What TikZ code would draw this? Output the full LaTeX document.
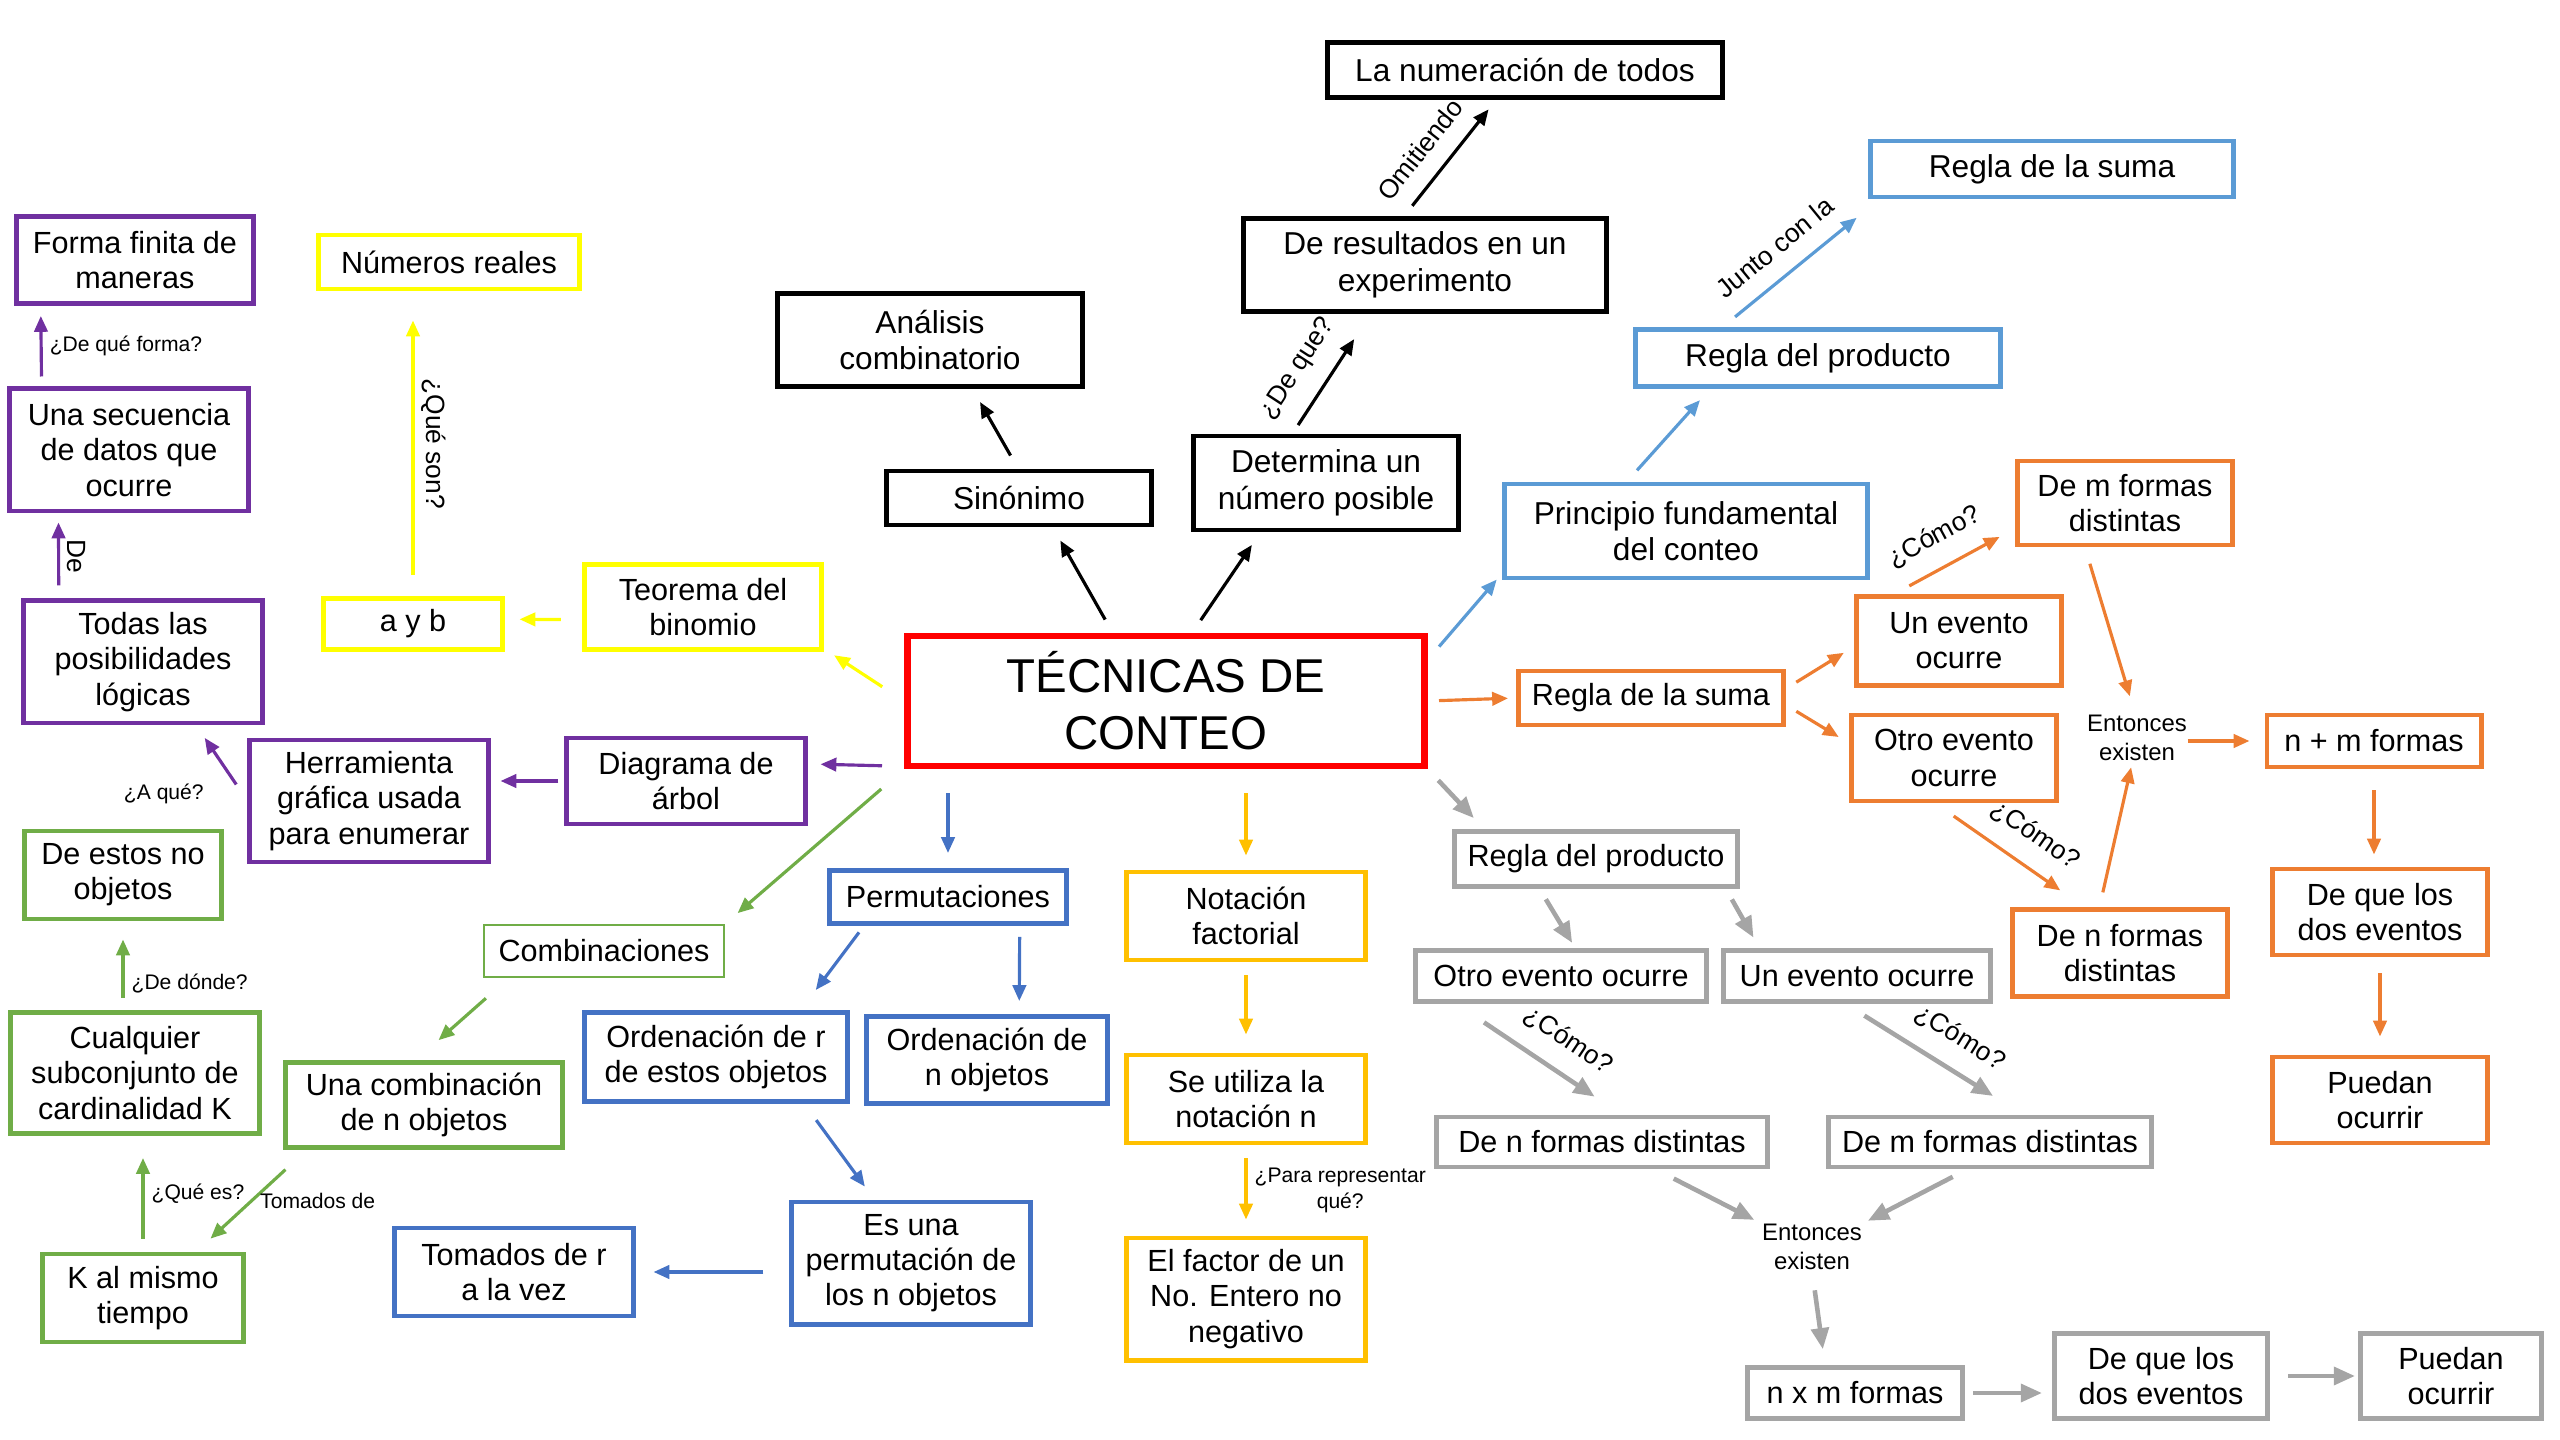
\documentclass[tikz,border=0pt]{standalone}
\usepackage{fontspec}
\setmainfont{Liberation Sans}
\usetikzlibrary{arrows.meta,calc}

\definecolor{rojo}{HTML}{FF0000}
\definecolor{celeste}{HTML}{5B9BD5}
\definecolor{naranja}{HTML}{ED7D31}
\definecolor{gris}{HTML}{A5A5A5}
\definecolor{amarillo}{HTML}{FFFF00}
\definecolor{dorado}{HTML}{FFC000}
\definecolor{morado}{HTML}{7030A0}
\definecolor{verde}{HTML}{70AD47}
\definecolor{azul}{HTML}{4472C4}

\tikzset{
  caja/.style={draw, rectangle, align=center, line width=1.4pt, inner sep=1pt,
    font=\fontsize{8.7}{10}\selectfont},
  bnegra/.style={caja, draw=black, font=\fontsize{9}{10.4}\selectfont},
  broja/.style={caja, draw=rojo, line width=1.9pt, font=\fontsize{13.5}{16.2}\selectfont},
  bceleste/.style={caja, draw=celeste, font=\fontsize{9}{10.4}\selectfont},
  bnaranja/.style={caja, draw=naranja},
  bgris/.style={caja, draw=gris},
  bamarilla/.style={caja, draw=amarillo},
  bdorada/.style={caja, draw=dorado},
  bmorada/.style={caja, draw=morado},
  bverde/.style={caja, draw=verde},
  bazul/.style={caja, draw=azul},
  flecha/.style={-{Triangle[length=4.5pt,width=3.8pt]}, line width=0.9pt,
    shorten <=1.5mm, shorten >=1.5mm},
  flechag/.style={flecha, gris, line width=1.3pt, -{Triangle[length=6pt,width=5pt]}},
  hueco/.style 2 args={shorten <=#1mm, shorten >=#2mm},
  etiq/.style={font=\fontsize{6}{7.2}\selectfont, inner sep=2pt, text=black},
  etiqg/.style={font=\fontsize{7.5}{9}\selectfont, inner sep=2pt, text=black},
  inclinada/.style={pos=#1, sloped, above=3pt, etiqg},
  inclinada/.default=0.5,
  entonces/.style={font=\fontsize{6.8}{8.2}\selectfont, align=center, inner sep=0pt},
}

\begin{document}
\begin{tikzpicture}[x=0.01cm, y=-0.01cm]
\useasboundingbox (0,0) rectangle (2560,1440);

% centro y negro
\node[broja, minimum width=5.17cm, minimum height=1.30cm] (tec) at (1166,701) {TÉCNICAS DE\\CONTEO};
\node[bnegra, minimum width=3.94cm, minimum height=0.55cm] (num) at (1525,70) {La numeración de todos};
\node[bnegra, minimum width=3.62cm, minimum height=0.93cm] (res) at (1425,265) {De resultados en un\\experimento};
\node[bnegra, minimum width=3.04cm, minimum height=0.93cm] (ana) at (930,340) {Análisis\\combinatorio};
\node[bnegra, minimum width=2.64cm, minimum height=0.54cm] (sin) at (1019,498) {Sinónimo};
\node[bnegra, minimum width=2.64cm, minimum height=0.94cm] (det) at (1326,483) {Determina un\\número posible};

% celeste
\node[bceleste, minimum width=3.63cm, minimum height=0.94cm] (pri) at (1686,531) {Principio fundamental\\del conteo};
\node[bceleste, minimum width=3.64cm, minimum height=0.57cm] (rpb) at (1818,358) {Regla del producto};
\node[bceleste, minimum width=3.62cm, minimum height=0.56cm] (rsb) at (2052,169) {Regla de la suma};

% naranja
\node[bnaranja, minimum width=2.65cm, minimum height=0.54cm] (rso) at (1651,698) {Regla de la suma};
\node[bnaranja, minimum width=2.05cm, minimum height=0.89cm] (uno) at (1959,641) {Un evento\\ocurre};
\node[bnaranja, minimum width=2.05cm, minimum height=0.86cm] (otro) at (1954,758) {Otro evento\\ocurre};
\node[bnaranja, minimum width=2.14cm, minimum height=0.84cm] (dem) at (2125,503) {De m formas\\distintas};
\node[bnaranja, minimum width=2.14cm, minimum height=0.87cm] (den) at (2120,953) {De n formas\\distintas};
\node[entonces] (ento) at (2137,738) {Entonces\\existen};
\node[bnaranja, minimum width=2.14cm, minimum height=0.52cm] (nm) at (2374,741) {n + m formas};
\node[bnaranja, minimum width=2.15cm, minimum height=0.86cm] (dql) at (2380,912) {De que los\\dos eventos};
\node[bnaranja, minimum width=2.15cm, minimum height=0.86cm] (puo) at (2380,1100) {Puedan\\ocurrir};

% gris
\node[bgris, minimum width=2.82cm, minimum height=0.55cm] (rpg) at (1596,859) {Regla del producto};
\node[bgris, minimum width=2.90cm, minimum height=0.51cm] (otg) at (1561,976) {Otro evento ocurre};
\node[bgris, minimum width=2.66cm, minimum height=0.51cm] (ung) at (1857,976) {Un evento ocurre};
\node[bgris, minimum width=3.31cm, minimum height=0.50cm] (deng) at (1602,1142) {De n formas distintas};
\node[bgris, minimum width=3.23cm, minimum height=0.50cm] (demg) at (1990,1142) {De m formas distintas};
\node[entonces] (entg) at (1812,1247) {Entonces\\existen};
\node[bgris, minimum width=2.15cm, minimum height=0.51cm] (nxm) at (1855,1393) {n x m formas};
\node[bgris, minimum width=2.13cm, minimum height=0.85cm] (dqg) at (2161,1376) {De que los\\dos eventos};
\node[bgris, minimum width=1.81cm, minimum height=0.85cm] (pug) at (2451,1376) {Puedan\\ocurrir};

% amarillo y dorado
\node[bamarilla, minimum width=2.60cm, minimum height=0.54cm] (nr) at (449,262) {Números reales};
\node[bamarilla, minimum width=1.78cm, minimum height=0.51cm] (ayb) at (413,624) {a y b};
\node[bamarilla, minimum width=2.37cm, minimum height=0.85cm] (teo) at (703,607) {Teorema del\\binomio};
\node[bdorada, minimum width=2.39cm, minimum height=0.88cm] (notf) at (1246,916) {Notación\\factorial};
\node[bdorada, minimum width=2.39cm, minimum height=0.88cm] (seu) at (1246,1099) {Se utiliza la\\notación n};
\node[bdorada, minimum width=2.39cm, minimum height=1.22cm] (fac) at (1246,1299) {El factor de un\\No. Entero no\\negativo};

% morado
\node[bmorada, minimum width=2.37cm, minimum height=0.87cm] (ffm) at (135,260) {Forma finita de\\maneras};
\node[bmorada, minimum width=2.38cm, minimum height=1.22cm] (sec) at (129,450) {Una secuencia\\de datos que\\ocurre};
\node[bmorada, minimum width=2.39cm, minimum height=1.22cm] (tod) at (143,662) {Todas las\\posibilidades\\lógicas};
\node[bmorada, minimum width=2.38cm, minimum height=1.22cm] (her) at (369,801) {Herramienta\\gráfica usada\\para enumerar};
\node[bmorada, minimum width=2.38cm, minimum height=0.86cm] (dia) at (686,781) {Diagrama de\\árbol};

% verde
\node[bverde, minimum width=1.97cm, minimum height=0.88cm] (deno) at (123,875) {De estos no\\objetos};
\node[bverde, minimum width=2.49cm, minimum height=1.21cm] (cua) at (135,1073) {Cualquier\\subconjunto de\\cardinalidad K};
\node[bverde, minimum width=2.00cm, minimum height=0.88cm] (kal) at (143,1298) {K al mismo\\tiempo};
\node[bverde, line width=0.8pt, minimum width=2.40cm, minimum height=0.52cm] (comb) at (604,951) {Combinaciones};
\node[bverde, minimum width=2.77cm, minimum height=0.85cm] (ucn) at (424,1105) {Una combinación\\de n objetos};

% azul
\node[bazul, minimum width=2.36cm, minimum height=0.53cm] (perm) at (948,897) {Permutaciones};
\node[bazul, minimum width=2.62cm, minimum height=0.89cm] (ordr) at (716,1057) {Ordenación de r\\de estos objetos};
\node[bazul, minimum width=2.40cm, minimum height=0.87cm] (ordn) at (987,1060) {Ordenación de\\n objetos};
\node[bazul, minimum width=2.38cm, minimum height=1.22cm] (esu) at (911,1263) {Es una\\permutación de\\los n objetos};
\node[bazul, minimum width=2.38cm, minimum height=0.88cm] (tdr) at (514,1272) {Tomados de r\\a la vez};

% flechas negras
\draw[flecha] (tec.128) -- (sin.-41);
\draw[flecha] (tec.69) -- (det.-143);
\draw[flecha] (sin.92) -- (ana.-49);
\draw[flecha, hueco={1}{3}] (det.124) -- (res.-138) node[inclinada=0.4] {¿De que?};
\draw[flecha, hueco={1.3}{1.2}] (res.113) -- (num.-134) node[inclinada=0.42] {Omitiendo};

% flechas celestes
\draw[flecha, celeste, hueco={1.7}{0.8}] (tec.9) -- (pri.-167);
\draw[flecha, celeste] (pri.140) -- (rpb.-164);
\draw[flecha, celeste, hueco={1.6}{2.9}] (rpb.162) -- (rsb.-170) node[inclinada=0.45] {Junto con la};

% flechas naranjas
\draw[flecha, naranja, hueco={1.1}{0.8}] (tec.east) -- (rso.west);
\draw[flecha, naranja, hueco={1.2}{1.2}] (rso.4) -- (uno.-177);
\draw[flecha, naranja, hueco={1.2}{1.2}] (rso.-3) -- (otro.172);
\draw[flecha, naranja, hueco={1.7}{1.8}] (uno.144) -- (dem.-167) node[inclinada=0.45] {¿Cómo?};
\draw[flecha, naranja, hueco={1.7}{1.9}] (dem.-132) -- (ento.94);
\draw[flecha, naranja, hueco={2.2}{2.9}] (otro.-112) -- (den.128) node[inclinada=0.55] {¿Cómo?};
\draw[flecha, naranja, hueco={1.5}{0.6}] (den.114) -- (ento.-101);
\draw[flecha, naranja, hueco={0}{1.5}] (ento.east |- nm.west) -- (nm.west);
\draw[flecha, naranja, hueco={2.1}{1.2}] (nm.south) -- (nm.south |- dql.north);
\draw[flecha, naranja, hueco={1.6}{1.8}] (dql.south) -- (puo.north);

% flechas grises
\draw[flechag] (tec.south east) -- (rpg.165);
\draw[flechag, hueco={1.2}{0.6}] (rpg.-152) -- (otg.63);
\draw[flechag, hueco={1.2}{1.2}] (rpg.-13) -- (ung.164);
\draw[flechag, hueco={3.3}{3.2}] (otg.-165) -- (deng.55) node[inclinada=0.57] {¿Cómo?};
\draw[flechag, hueco={2.2}{3.5}] (ung.-112) -- (demg.40) node[inclinada=0.55] {¿Cómo?};
\draw[flechag, hueco={2}{0.8}] (deng.-27) -- (entg.north west);
\draw[flechag, hueco={1.6}{0.6}] (demg.-130) -- (entg.north east);
\draw[flechag, hueco={2}{1.6}] (entg.south) -- (nxm.137);
\draw[flechag, hueco={0.8}{1}] (nxm.east) -- (nxm.east -| dqg.west);
\draw[flechag, hueco={1.8}{0.3}] (dqg.east) -- (pug.west);

% flechas amarillas y doradas
\draw[flecha, amarillo, hueco={2.6}{1.2}] (tec.west) -- (teo.-19);
\draw[flecha, amarillo, hueco={2.1}{1.5}] (teo.186) -- (ayb.3);
\draw[flecha, amarillo, hueco={2.1}{2.9}] (ayb.north) -- (ayb.north |- nr.south) node[midway, rotate=-90, anchor=south, etiqg] {¿Qué son?};
\draw[flecha, dorado, hueco={2.4}{1.4}] (tec.south -| notf.north) -- (notf.north);
\draw[flecha, dorado, hueco={1.3}{1.8}] (notf.south) -- (seu.north);
\draw[flecha, dorado, hueco={1.3}{1.6}] (seu.south) -- (fac.north) node[midway, right, etiq, align=center] {¿Para representar\\qué?};

% flechas moradas
\draw[flecha, morado, hueco={2.2}{1.3}] (tec.194) -- (dia.8);
\draw[flecha, morado, hueco={0.6}{1}] (dia.west) -- (dia.west -| her.east);
\draw[flecha, morado, hueco={2}{1.5}] (her.west) -- (tod.-50) node[pos=0.1, left=3mm, etiq] {¿A qué?};
\draw[flecha, morado, hueco={1.3}{0.9}] (tod.143) -- (sec.-138) node[midway, rotate=-90, anchor=south, etiqg] {De};
\draw[flecha, morado, hueco={1}{1}] (sec.144) -- (ffm.-154) node[midway, right, etiq] {¿De qué forma?};

% flechas verdes
\draw[flecha, verde, hueco={3}{1.6}] (tec.south west) -- (comb.north east);
\draw[flecha, verde, hueco={3}{3}] (comb.-164) -- (ucn.100);
\draw[flecha, verde, hueco={2.9}{1.9}] (ucn.-159.5) -- (kal.41) node[midway, right, etiq] {Tomados de};
\draw[flecha, verde, hueco={1.3}{2.2}] (kal.north) -- (kal.north |- cua.south) node[midway, right, etiq] {¿Qué es?};
\draw[flecha, verde, hueco={1.2}{1.8}] (deno.south |- cua.north) -- (deno.south) node[pos=0.3, right, etiq] {¿De dónde?};

% flechas azules
\draw[flecha, azul, hueco={2.4}{1.5}] (perm.north |- tec.south) -- (perm.north);
\draw[flecha, azul, hueco={0.8}{2.5}] (perm.-161) -- (ordr.29);
\draw[flecha, azul, hueco={1.1}{1.3}] (perm.-22) -- (ordn.55);
\draw[flecha, azul, hueco={2}{1.6}] (ordr.-28) -- (esu.120);
\draw[flecha, azul, hueco={2.6}{1.8}] (tdr.east -| esu.west) -- (tdr.east);

\end{tikzpicture}
\end{document}
